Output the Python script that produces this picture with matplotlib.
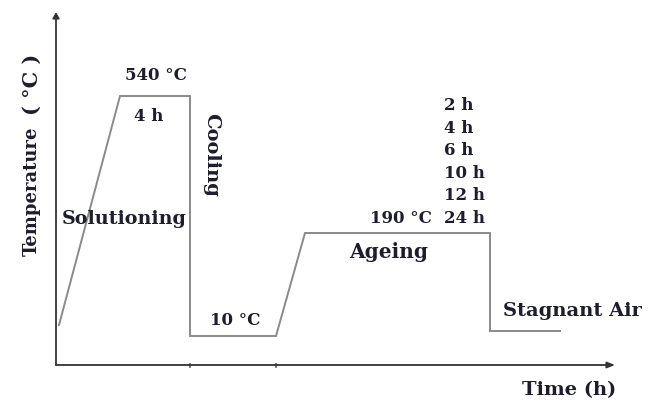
import matplotlib
matplotlib.use("Agg")
import matplotlib.pyplot as plt

# Heat-treatment schedule (schematic units: time along x, temperature along y)
time = [3, 64, 134, 134, 220, 249, 434, 434, 504]
temp = [40, 269, 269, 29, 29, 132, 132, 34, 34]

ageing_times = ["2 h", "4 h", "6 h", "10 h", "12 h", "24 h"]
stage_ticks = [134, 220]

TXT = "#1d1d2b"
LINE = "#8a8a8a"
AXIS = "#555555"
FONT = "DejaVu Serif"

fig = plt.figure(figsize=(6.56, 4.01), dpi=100)
ax = fig.add_axes([0, 0, 1, 1])
ax.set_xlim(-56, 600)
ax.set_ylim(-36, 365)
ax.axis("off")

# axes with arrows
ax.annotate("", xy=(0, 353), xytext=(0, 0),
            arrowprops=dict(arrowstyle="-|>,head_length=0.35,head_width=0.2",
                            color="#333333", lw=1.3, shrinkA=0, shrinkB=0))
ax.annotate("", xy=(559, 0), xytext=(0, 0),
            arrowprops=dict(arrowstyle="-|>,head_length=0.45,head_width=0.18",
                            color="#333333", lw=1.3, shrinkA=0, shrinkB=0))
for t in stage_ticks:
    ax.plot([t, t], [-1.5, 1.5], color=AXIS, lw=1.2)

# temperature profile
ax.plot(time, temp, color=LINE, lw=1.4, solid_joinstyle="miter")

kw = dict(family=FONT, weight="bold", color=TXT)
ax.text(99.5, 285, "540 °C", ha="center", va="baseline", fontsize=12, **kw)
ax.text(93, 244, "4 h", ha="center", va="baseline", fontsize=12, **kw)
ax.text(155, 210, "Cooling", ha="center", va="center", rotation=-90, fontsize=14, **kw)
ax.text(68.5, 141, "Solutioning", ha="center", va="baseline", fontsize=13.8, **kw)
ax.text(179, 40, "10 °C", ha="center", va="baseline", fontsize=12, **kw)
ax.text(-24, 174, "Temperature", ha="center", va="center", rotation=90, fontsize=13, **kw)
ax.text(-24, 281, "( °C )", ha="center", va="center", rotation=90, fontsize=15, **kw)
ax.text(344.5, 142, "190 °C", ha="center", va="baseline", fontsize=12, **kw)
ax.text(332.5, 107, "Ageing", ha="center", va="baseline", fontsize=14.5, **kw)
ax.text(516.5, 49, "Stagnant Air", ha="center", va="baseline", fontsize=14, **kw)
ax.text(513.5, -30, "Time (h)", ha="center", va="baseline", fontsize=14, **kw)

for i, lab in enumerate(ageing_times):
    ax.text(388, 255 - i * 22.6, lab, ha="left", va="baseline", fontsize=12, **kw)

fig.savefig("out.png", dpi=100)
